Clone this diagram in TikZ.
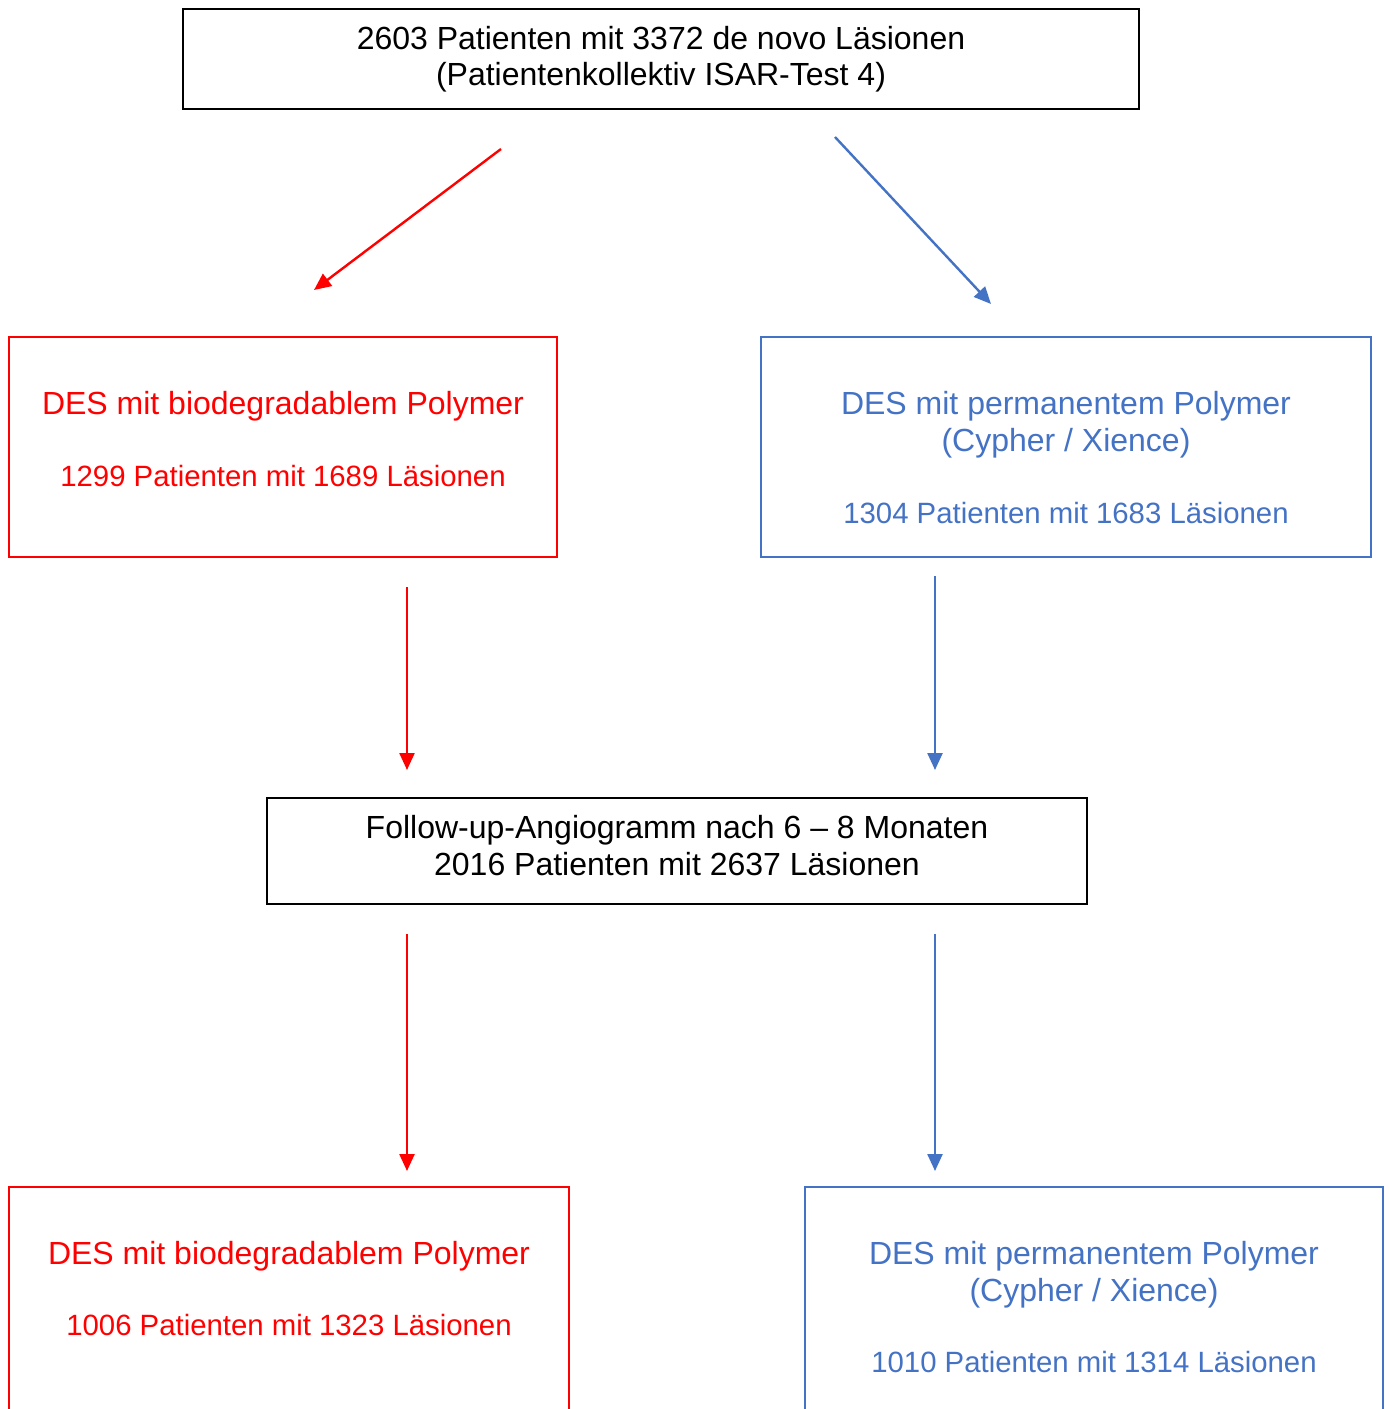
\documentclass[tikz,border=0pt]{standalone}
\usepackage{fontspec}
\setmainfont{Liberation Sans}
\usetikzlibrary{arrows.meta}
\definecolor{dred}{RGB}{255,0,0}
\definecolor{dblue}{HTML}{4472C4}
\begin{document}
\begin{tikzpicture}[x=0.5pt,y=-0.5pt,
  box/.style={draw, line width=1pt, rectangle, inner sep=0pt},
  bigtxt/.style={font=\fontsize{16pt}{18.5pt}\selectfont, anchor=base, inner sep=0pt},
  smalltxt/.style={font=\fontsize{14.67pt}{17pt}\selectfont, anchor=base, inner sep=0pt},
  arr/.style={line width=1.2pt, -{Triangle[length=8.5pt,width=7.5pt]}}]
\useasboundingbox (0,0) rectangle (1389,1409);
\clip (0,0) rectangle (1389,1409);
\fill[white] (0,0) rectangle (1389,1409);

% boxes
\node[box, black, minimum width=478pt, minimum height=50pt] (top) at (661,58.5) {};
\node[box, dred, minimum width=274pt, minimum height=110pt] (r1) at (283,447) {};
\node[box, dblue, minimum width=305pt, minimum height=110pt] (b1) at (1066,447) {};
\node[box, black, minimum width=410pt, minimum height=53pt] (mid) at (677,851) {};
\node[box, dred, minimum width=280pt, minimum height=126.5pt] (r2) at (289,1313.5) {};
\node[box, dblue, minimum width=289pt, minimum height=126.5pt] (b2) at (1094,1313.5) {};

% texts
\node[bigtxt] (t1) at (661,49) {2603 Patienten mit 3372 de novo Läsionen};
\node[bigtxt] (t2) at (661,85) {(Patientenkollektiv ISAR-Test 4)};

\node[bigtxt, text=dred] (r1a) at (283,414) {DES mit biodegradablem Polymer};
\node[smalltxt, text=dred] (r1b) at (283,486) {1299 Patienten mit 1689 Läsionen};

\node[bigtxt, text=dblue] (b1a) at (1066,414) {DES mit permanentem Polymer};
\node[bigtxt, text=dblue] (b1b) at (1066,451) {(Cypher / Xience)};
\node[smalltxt, text=dblue] (b1c) at (1066,523) {1304 Patienten mit 1683 Läsionen};

\node[bigtxt] (m1) at (677,838) {Follow-up-Angiogramm nach 6 – 8 Monaten};
\node[bigtxt] (m2) at (677,875) {2016 Patienten mit 2637 Läsionen};

\node[bigtxt, text=dred] (r2a) at (289,1264) {DES mit biodegradablem Polymer};
\node[smalltxt, text=dred] (r2b) at (289,1335) {1006 Patienten mit 1323 Läsionen};

\node[bigtxt, text=dblue] (b2a) at (1094,1264) {DES mit permanentem Polymer};
\node[bigtxt, text=dblue] (b2b) at (1094,1301) {(Cypher / Xience)};
\node[smalltxt, text=dblue] (b2c) at (1094,1372) {1010 Patienten mit 1314 Läsionen};

% arrow end points
\coordinate (d1s) at (501,149); \coordinate (d1e) at (314,290);
\coordinate (d2s) at (835,137); \coordinate (d2e) at (991,304);
\coordinate (v1s) at (407,587); \coordinate (v1e) at (407,770);
\coordinate (v2s) at (935,576); \coordinate (v2e) at (935,770);
\coordinate (v3s) at (407,934); \coordinate (v3e) at (407,1171);
\coordinate (v4s) at (935,934); \coordinate (v4e) at (935,1171);

\draw[arr, dred] (d1s) -- (d1e);
\draw[arr, dblue] (d2s) -- (d2e);
\draw[arr, dred] (v1s) -- (v1e);
\draw[arr, dblue] (v2s) -- (v2e);
\draw[arr, dred] (v3s) -- (v3e);
\draw[arr, dblue] (v4s) -- (v4e);
\end{tikzpicture}
\end{document}
